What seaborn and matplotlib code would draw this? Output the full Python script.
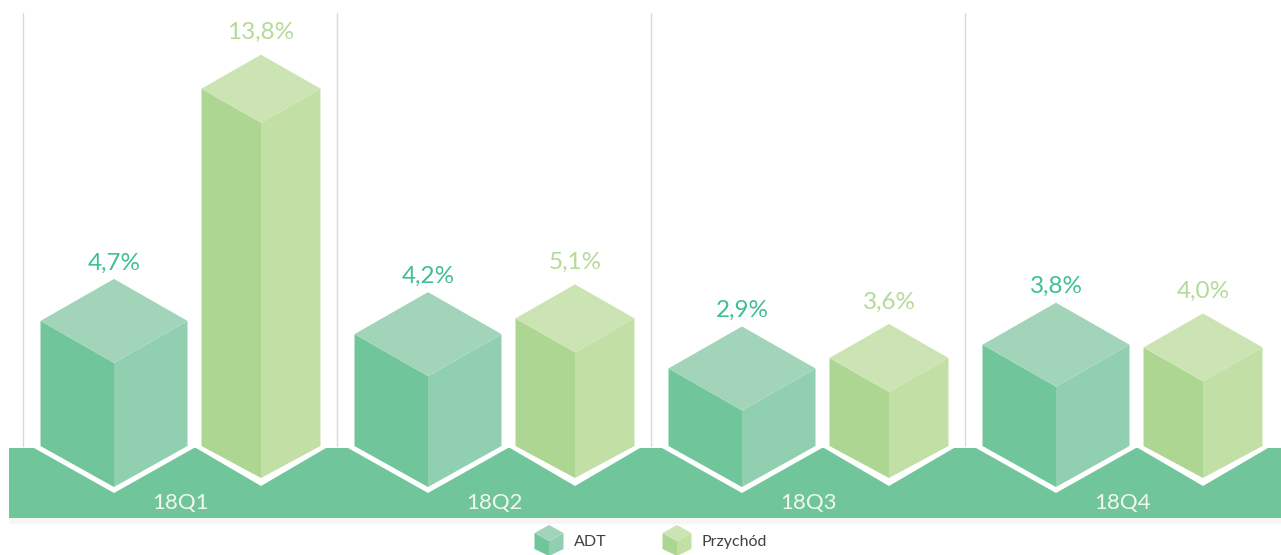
import matplotlib
matplotlib.use("Agg")
import matplotlib.pyplot as plt
import pandas as pd
import seaborn as sns
from matplotlib.patches import Polygon, Rectangle

quarters = ["18Q1", "18Q2", "18Q3", "18Q4"]
adt_values = [4.7, 4.2, 2.9, 3.8]
przychod_values = [13.8, 5.1, 3.6, 4.0]
adt_labels = ["4,7%", "4,2%", "2,9%", "3,8%"]
przychod_labels = ["13,8%", "5,1%", "3,6%", "4,0%"]

df = pd.DataFrame({
    "quarter": quarters * 2,
    "series": ["ADT"] * 4 + ["Przychód"] * 4,
    "value": adt_values + przychod_values,
})

# pixel sizes of the picture -> data units
W, H = 1281, 555
GROUP_PX = 314
UNIT_PX = 26.4
ZERO_Y = 487
FIRST_X = 180


def dx(px):
    return px / GROUP_PX


def dy(px):
    return px / UNIT_PX


def yy(py):
    return (ZERO_Y - py) / UNIT_PX


def xx(px):
    return (px - FIRST_X) / GROUP_PX


# offset, half width, half height of the top, bottom rise, bottom tip, white tip, white half width, label gap
style = {
    "ADT": dict(off=-66, hw=73.5, d=42, rise=41, tip=487, wtip=493, whw=80, gap=16,
                left="#70C59B", right="#90CFAF", top="#A2D4BA", text="#3FBF92"),
    "Przychód": dict(off=81, hw=59.5, d=34, rise=32, tip=478, wtip=486, whw=65, gap=22,
                     left="#AED693", right="#C2DFA5", top="#CCE4B3", text="#B4DA98"),
}

sns.set_theme(style="white")
plt.rcParams["font.family"] = ["Lato", "DejaVu Sans"]

fig = plt.figure(figsize=(W / 100, H / 100), dpi=100)
ax = fig.add_axes([0, 0, 1, 1])

sns.barplot(data=df, x="quarter", y="value", hue="series", order=quarters,
            palette={k: v["left"] for k, v in style.items()}, legend=False, ax=ax)

ax.set_xlim(xx(0), xx(W))
ax.set_ylim(yy(H), yy(0))
ax.axis("off")

# group separators and the band at the bottom
for i in range(len(quarters)):
    ax.plot([i - 0.5, i - 0.5], [yy(13), yy(446)], color="#DADADA", lw=1, zorder=1)
ax.add_patch(Rectangle((xx(9), yy(524)), dx(W - 9), dy(6), color="#F6F6F2", lw=0, zorder=1))
ax.add_patch(Rectangle((xx(9), yy(518)), dx(W - 9), dy(70), color="#70C59B", lw=0, zorder=2))

# seaborn gives the bars, each one is redrawn as a cube from its height
series_names = ["ADT"] * 4 + ["Przychód"] * 4
labels = adt_labels + przychod_labels
for patch, name, label in zip(ax.patches[:8], series_names, labels):
    patch.set_visible(False)
    st = style[name]
    group = round(patch.get_x() + patch.get_width() / 2)
    val = patch.get_height()
    cx = group + dx(st["off"])
    hw = dx(st["hw"])
    d = dy(st["d"])
    tip = yy(st["tip"])
    rise = dy(st["rise"])

    ax.add_patch(Polygon([(cx - dx(st["whw"]), yy(448)), (cx, yy(st["wtip"])),
                          (cx + dx(st["whw"]), yy(448)), (cx + dx(st["whw"]), yy(440)),
                          (cx - dx(st["whw"]), yy(440))], color="white", lw=0, zorder=3))
    ax.add_patch(Polygon([(cx - hw, val + d), (cx, val), (cx, tip), (cx - hw, tip + rise)],
                         color=st["left"], lw=0, zorder=4))
    ax.add_patch(Polygon([(cx + hw, val + d), (cx, val), (cx, tip), (cx + hw, tip + rise)],
                         color=st["right"], lw=0, zorder=4))
    ax.add_patch(Polygon([(cx - hw, val + d), (cx, val), (cx + hw, val + d), (cx, val + 2 * d)],
                         color=st["top"], lw=0, zorder=4))
    ax.text(cx, val + 2 * d + dy(st["gap"]), label, color=st["text"], fontsize=17.5,
            ha="center", va="center", zorder=5)

for i, q in enumerate(quarters):
    ax.text(i, yy(503), q, color="#F3F8EC", fontsize=16, ha="center", va="center", zorder=5)

# legend with small cubes
for name, icon_x, text_x in [("ADT", 549, 574), ("Przychód", 677, 702)]:
    st = style[name]
    c, hw, d = xx(icon_x), dx(14.5), dy(8)
    mid = yy(541)
    ax.add_patch(Polygon([(c - hw, mid + d), (c, mid), (c, yy(556)), (c - hw, mid - d)],
                         color=st["left"], lw=0, zorder=4))
    ax.add_patch(Polygon([(c + hw, mid + d), (c, mid), (c, yy(556)), (c + hw, mid - d)],
                         color=st["right"], lw=0, zorder=4))
    ax.add_patch(Polygon([(c - hw, mid + d), (c, mid), (c + hw, mid + d), (c, mid + 2 * d)],
                         color=st["top"], lw=0, zorder=4))
    ax.text(xx(text_x), yy(542), name, color="#404040", fontsize=11.5, ha="left", va="center", zorder=5)

fig.savefig("out.png", dpi=100, facecolor="white")
